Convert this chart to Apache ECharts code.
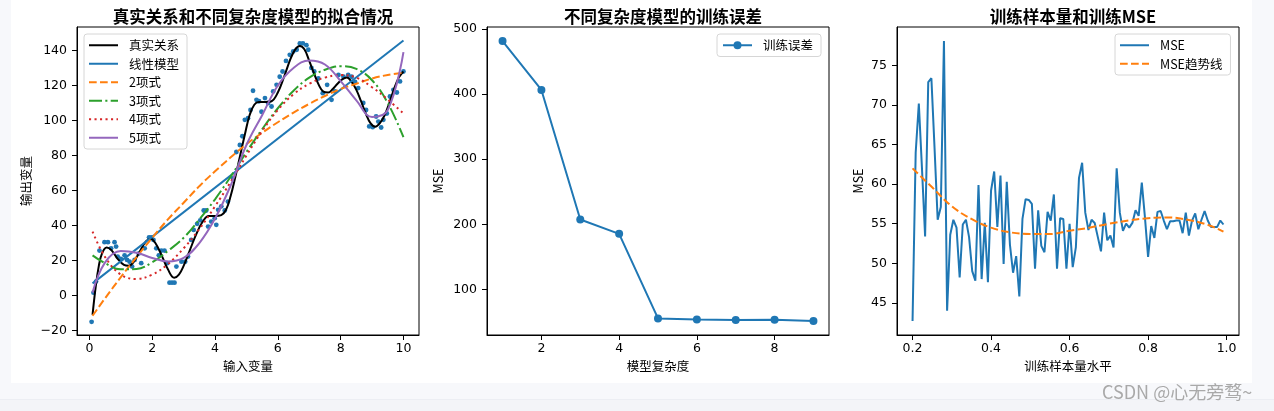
<!DOCTYPE html>
<html>
<head>
<meta charset="utf-8">
<script src="https://cdn.jsdelivr.net/npm/echarts@6/dist/echarts.min.js"></script>
<style>
  html, body { margin: 0; padding: 0; background: #f7f8fb; }
  #card { position: absolute; left: 11px; top: 0; width: 1241px; height: 383px; background: #fff; }
  #rule { position: absolute; left: 0; top: 399px; width: 1274px; height: 12px; background: #f3f4f8; border-top: 1px solid #eceef3; }
  #chart { position: absolute; left: 0; top: 0; width: 1274px; height: 411px; }
</style>
</head>
<body>
<div id="card"></div>
<div id="rule"></div>
<div id="chart"></div>
<script>
// ---------- 左图: 真实关系和不同复杂度模型的拟合情况 ----------
var scatterX = [0.07, 0.13, 0.21, 0.32, 0.48, 0.59, 0.69, 0.8, 0.85, 0.9, 1.0, 1.12, 1.2, 1.28, 1.36, 1.44, 1.57, 1.65, 1.76, 1.9,
  1.97, 2.04, 2.13, 2.21, 2.29, 2.39, 2.48, 2.55, 2.63, 2.71, 2.77, 2.93, 3.05, 3.14, 3.24, 3.32, 3.43, 3.53, 3.64, 3.72,
  3.78, 3.88, 3.99, 4.04, 4.1, 4.2, 4.31, 4.41, 4.57, 4.68, 4.79, 4.87, 4.95, 5.05, 5.13, 5.21, 5.32, 5.4, 5.48, 5.59,
  5.69, 5.8, 5.85, 5.96, 6.06, 6.15, 6.26, 6.38, 6.49, 6.6, 6.7, 6.8, 6.91, 6.97, 7.07, 7.16, 7.29, 7.43, 7.57, 7.71,
  7.82, 7.93, 8.09, 8.24, 8.35, 8.46, 8.56, 8.72, 8.81, 8.91, 9.02, 9.13, 9.2, 9.29, 9.36, 9.47, 9.57, 9.68, 9.79, 9.89, 10.0];
var scatterY = [-15, 1.7, 8, 25.7, 30.5, 30.5, 27, 30.5, 28, 22.3, 21, 23, 20.4, 19.4, 16.6, 20.4, 24, 18.5, 27, 33.3,
  33.3, 31.8, 27, 23, 25.7, 25.7, 18.5, 7.4, 7.4, 7.4, 16.6, 19.4, 19.4, 22.3, 31.8, 37.5, 41, 43, 48.6, 48.6,
  39.4, 42.3, 44.2, 40.4, 49, 51, 48.6, 53.7, 67, 82, 86, 91, 100.4, 101.3, 106, 117, 111.8, 111, 105, 112.8,
  110, 108, 116.6, 120.4, 125, 128, 134, 137.5, 139.4, 140.4, 144, 144, 143, 140.4, 130, 128, 124, 115.6, 120.4, 111.8,
  116.6, 126, 125, 126, 125, 122, 118.5, 110, 106, 96.6, 96.2, 102.3, 99.4, 96, 100.4, 104, 113.7, 117.5, 116, 122.3, 128];

var trueX = [0.1, 0.2, 0.3, 0.4, 0.55, 0.7, 0.9, 1.1, 1.25, 1.4, 1.6, 1.8, 1.95, 2.1, 2.3, 2.5, 2.7, 2.85, 3.0, 3.2,
  3.4, 3.6, 3.8, 4.0, 4.2, 4.35, 4.5, 4.65, 4.8, 4.95, 5.1, 5.25, 5.4, 5.6, 5.8, 6.0, 6.2, 6.4, 6.55, 6.7,
  6.85, 7.0, 7.15, 7.3, 7.45, 7.6, 7.75, 7.9, 8.05, 8.2, 8.35, 8.5, 8.65, 8.8, 8.95, 9.1, 9.25, 9.4, 9.55, 9.7, 9.85, 10.0];
var trueY = [-11, 5, 17, 24, 27.5, 26, 21, 17.5, 17, 19, 25, 31, 32.5, 30, 23, 15, 10.2, 12, 17, 26,
  35, 42, 45.5, 45.5, 46, 49, 57, 68, 80, 92, 103, 109, 110.5, 110.5, 111, 116, 125, 135, 140.5, 142.5,
  140.5, 134, 127, 120.5, 116.5, 116, 118, 121, 123.5, 124.5, 122, 117.5, 111, 104, 98.5, 96.5, 98.5, 103, 110, 118, 124.5, 128];

var linX = [0.1, 10.0];
var linY = [7, 145.7];

var polyX = [0.1, 0.5, 1, 1.5, 2, 2.5, 3, 3.5, 4, 4.5, 5, 5.5, 6, 6.5, 7, 7.5, 8, 8.5, 9, 9.5, 10];
var poly2Y = [-11.5, -1.5, 10.5, 22, 33, 43.5, 53, 62.5, 71, 79, 86.5, 93, 99, 104.5, 109.5, 114, 118, 121, 124, 126, 127.2];
var poly3Y = [23, 18.5, 15, 15.2, 19, 25.5, 33, 43.5, 55, 68, 82, 95, 107, 117, 124.5, 129, 131, 129.5, 123, 110, 90.5];
var poly4Y = [36.6, 22, 12, 9.5, 12, 18, 27, 38, 51, 65, 80, 94, 106, 115, 121, 124.5, 126, 124.5, 119, 112, 104];
var poly5Y = [1.7, 19, 25.5, 24.5, 21.5, 19.5, 21.5, 30, 44, 63, 86, 103, 120, 130, 134.3, 132, 122.5, 111.5, 102, 106, 139];

// ---------- 中图: 不同复杂度模型的训练误差 ----------
var complexity = [1, 2, 3, 4, 5, 6, 7, 8, 9];
var trainMse = [481.5, 406.4, 207.4, 185.4, 55.5, 53.8, 53.3, 53.6, 51.6];

// ---------- 右图: 训练样本量和训练MSE ----------
var sampleLevels = [0.200, 0.208, 0.216, 0.224, 0.232, 0.240, 0.248, 0.256, 0.264, 0.272,
  0.280, 0.288, 0.296, 0.304, 0.312, 0.320, 0.328, 0.336, 0.344, 0.352,
  0.360, 0.368, 0.376, 0.384, 0.392, 0.400, 0.408, 0.416, 0.424, 0.432,
  0.440, 0.448, 0.456, 0.464, 0.472, 0.480, 0.488, 0.496, 0.504, 0.512,
  0.520, 0.528, 0.536, 0.544, 0.552, 0.560, 0.568, 0.576, 0.584, 0.592,
  0.600, 0.608, 0.616, 0.624, 0.632, 0.640, 0.648, 0.656, 0.664, 0.672,
  0.680, 0.688, 0.696, 0.704, 0.712, 0.720, 0.728, 0.736, 0.744, 0.752,
  0.760, 0.768, 0.776, 0.784, 0.792, 0.800, 0.808, 0.816, 0.824, 0.832,
  0.840, 0.848, 0.856, 0.864, 0.872, 0.880, 0.888, 0.896, 0.904, 0.912,
  0.920, 0.928, 0.936, 0.944, 0.952, 0.960, 0.968, 0.976, 0.984, 0.992];
var sampleMse = [42.7, 64, 70.2, 62, 53.4, 72.9, 73.4, 64.6, 55.5, 57.1,
  78.1, 44, 53.6, 55.5, 54.5, 48.2, 54.9, 55.5, 53.3, 49,
  47.8, 59.9, 48, 55.1, 47.6, 59.2, 61.6, 54.6, 61.1, 49.9,
  60.3, 52.4, 48.8, 50.9, 45.8, 55.6, 58.1, 58, 57.5, 49.3,
  56.7, 52.2, 51.4, 56.5, 55.4, 58.7, 49.3, 55.7, 55.6, 49.3,
  55, 49.5, 52, 60.8, 62.7, 56.4, 54.2, 55.5, 55.1, 53.3,
  51.5, 56.4, 52.9, 53.5, 52, 62, 56.4, 54.1, 55, 54.5,
  55.1, 56.7, 56, 60.2, 55.8, 50.8, 54.7, 53.2, 56.5, 56.6,
  55.4, 54.3, 55.3, 55.3, 55.4, 55.4, 53.8, 56.4, 53.5, 55.4,
  56.3, 54.3, 55.5, 56.6, 55.4, 54.6, 54.6, 54.6, 55.4, 54.9];
var trendX = [0.2, 0.25, 0.3, 0.35, 0.4, 0.45, 0.5, 0.55, 0.6, 0.65, 0.7, 0.75, 0.8, 0.85, 0.9, 0.95, 0.992];
var trendY = [62, 59.6, 57.2, 55.6, 54.5, 53.9, 53.7, 53.7, 54.1, 54.5, 55, 55.4, 55.7, 55.8, 55.5, 54.9, 54.0];

var fontCJK = '"Noto Sans CJK SC", "DejaVu Sans", sans-serif';
var fontNum = '"DejaVu Sans", sans-serif';

function pairs(xs, ys) {
    var out = [];
    for (var i = 0; i < xs.length; i++) {
        out.push([xs[i], ys[i]]);
    }
    return out;
}

// 눈금 라벨: step 배수만 표시
function tickFmt(step, digits) {
    return function (v) {
        var k = v / step;
        if (Math.abs(k - Math.round(k)) > 1e-6) return '';
        var s = Math.abs(v).toFixed(digits);
        return (v < -1e-9 ? '\u2212' : '') + s;
    };
}

function valAxis(gridIndex, min, max, splitNumber, step, digits, name, nameGap, isY) {
    return {
        type: 'value',
        gridIndex: gridIndex,
        min: min,
        max: max,
        splitNumber: splitNumber,
        scale: true,
        name: name,
        nameLocation: 'middle',
        nameGap: nameGap,
        nameTextStyle: { color: '#000', fontSize: 12.5, fontFamily: fontCJK },
        axisLine: { show: true, onZero: false, lineStyle: { color: '#000', width: 1 } },
        axisTick: { show: true, inside: false, length: 5, lineStyle: { color: '#000', width: 1 } },
        axisLabel: {
            color: '#000', fontSize: 12.5, fontFamily: fontNum,
            margin: isY ? 10 : 7,
            showMinLabel: false, showMaxLabel: false,
            formatter: tickFmt(step, digits)
        },
        splitLine: { show: false }
    };
}

var C = ['#1f77b4', '#ff7f0e', '#2ca02c', '#d62728', '#9467bd'];

function curve(name, xs, ys, color, type, smooth) {
    return {
        name: name, type: 'line', xAxisIndex: 0, yAxisIndex: 0,
        data: pairs(xs, ys), symbol: 'none', smooth: smooth,
        lineStyle: { color: color, width: 2, type: type },
        itemStyle: { color: color },
        animation: false
    };
}

var chart = echarts.init(document.getElementById('chart'));

var gridBox = { show: true, borderColor: '#000', borderWidth: 1, backgroundColor: 'transparent', containLabel: false };

var legendCommon = {
    orient: 'vertical',
    backgroundColor: 'rgba(255,255,255,0.8)',
    borderColor: '#d6d6d6',
    borderWidth: 1,
    borderRadius: 3,
    itemWidth: 29,
    itemHeight: 10,
    itemGap: 6,
    textStyle: { color: '#000', fontSize: 12.5, fontFamily: fontCJK, padding: [0, 0, 0, 6] }
};

var option = {
    backgroundColor: 'transparent',
    animation: false,
    title: [
        { text: '真实关系和不同复杂度模型的拟合情况', left: 248, top: 3, textAlign: 'center',
          textStyle: { fontSize: 16.5, fontWeight: 'bold', color: '#000', fontFamily: fontCJK } },
        { text: '不同复杂度模型的训练误差', left: 658, top: 3, textAlign: 'center',
          textStyle: { fontSize: 16.5, fontWeight: 'bold', color: '#000', fontFamily: fontCJK } },
        { text: '训练样本量和训练MSE', left: 1068, top: 3, textAlign: 'center',
          textStyle: { fontSize: 16.5, fontWeight: 'bold', color: '#000', fontFamily: fontCJK } }
    ],
    grid: [
        Object.assign({ left: 77, top: 27, width: 342, height: 308 }, gridBox),
        Object.assign({ left: 487, top: 27, width: 342, height: 308 }, gridBox),
        Object.assign({ left: 897, top: 27, width: 342, height: 308 }, gridBox)
    ],
    xAxis: [
        valAxis(0, -0.395, 10.495, 5, 2, 0, '输入变量', 24, false),
        valAxis(1, 0.6, 9.4, 4, 2, 0, '模型复杂度', 24, false),
        valAxis(2, 0.1604, 1.0316, 4, 0.2, 1, '训练样本量水平', 24, false)
    ],
    yAxis: [
        valAxis(0, -22.5, 153.4, 9, 20, 0, '输出变量', 44, true),
        valAxis(1, 30.1, 503, 5, 100, 0, 'MSE', 42, true),
        valAxis(2, 40.93, 79.87, 8, 5, 0, 'MSE', 33, true)
    ],
    legend: [
        Object.assign({}, legendCommon, {
            left: 84, top: 34, padding: [5, 8, 5, 4],
            itemStyle: { opacity: 0 },
            data: ['真实关系', '线性模型', '2项式', '3项式', '4项式', '5项式']
        }),
        Object.assign({}, legendCommon, {
            left: 717, top: 34, padding: [5, 8, 5, 5],
            data: ['训练误差']
        }),
        Object.assign({}, legendCommon, {
            left: 1115, top: 34, padding: [5, 8, 5, 4],
            itemStyle: { opacity: 0 },
            data: ['MSE', 'MSE趋势线']
        })
    ],
    graphic: [
        { type: 'text', left: 1102, top: 383,
          style: { text: 'CSDN @心无旁骛~', fill: '#a9a9a9', fontSize: 18, fontFamily: fontCJK } }
    ],
    series: [
        {
            name: '数据点', type: 'scatter', xAxisIndex: 0, yAxisIndex: 0,
            data: pairs(scatterX, scatterY), symbolSize: 4.8,
            itemStyle: { color: C[0], opacity: 1 }
        },
        curve('真实关系', trueX, trueY, '#000', 'solid', 0.4),
        curve('线性模型', linX, linY, C[0], 'solid', false),
        curve('2项式', polyX, poly2Y, C[1], [7.7, 3.3], 0.4),
        curve('3项式', polyX, poly3Y, C[2], [13, 3.3, 2.1, 3.3], 0.4),
        curve('4项式', polyX, poly4Y, C[3], [2.1, 3.4], 0.4),
        curve('5项式', polyX, poly5Y, C[4], 'solid', 0.4),
        {
            name: '训练误差', type: 'line', xAxisIndex: 1, yAxisIndex: 1,
            data: pairs(complexity, trainMse),
            symbol: 'circle', symbolSize: 8, showSymbol: true,
            lineStyle: { color: C[0], width: 2 },
            itemStyle: { color: C[0] }
        },
        {
            name: 'MSE', type: 'line', xAxisIndex: 2, yAxisIndex: 2,
            data: pairs(sampleLevels, sampleMse), symbol: 'none',
            lineStyle: { color: C[0], width: 2 },
            itemStyle: { color: C[0] }
        },
        {
            name: 'MSE趋势线', type: 'line', xAxisIndex: 2, yAxisIndex: 2,
            data: pairs(trendX, trendY), symbol: 'none', smooth: 0.4,
            lineStyle: { color: C[1], width: 2, type: [7.7, 3.3] },
            itemStyle: { color: C[1] }
        }
    ]
};

chart.setOption(option);
</script>
</body>
</html>
